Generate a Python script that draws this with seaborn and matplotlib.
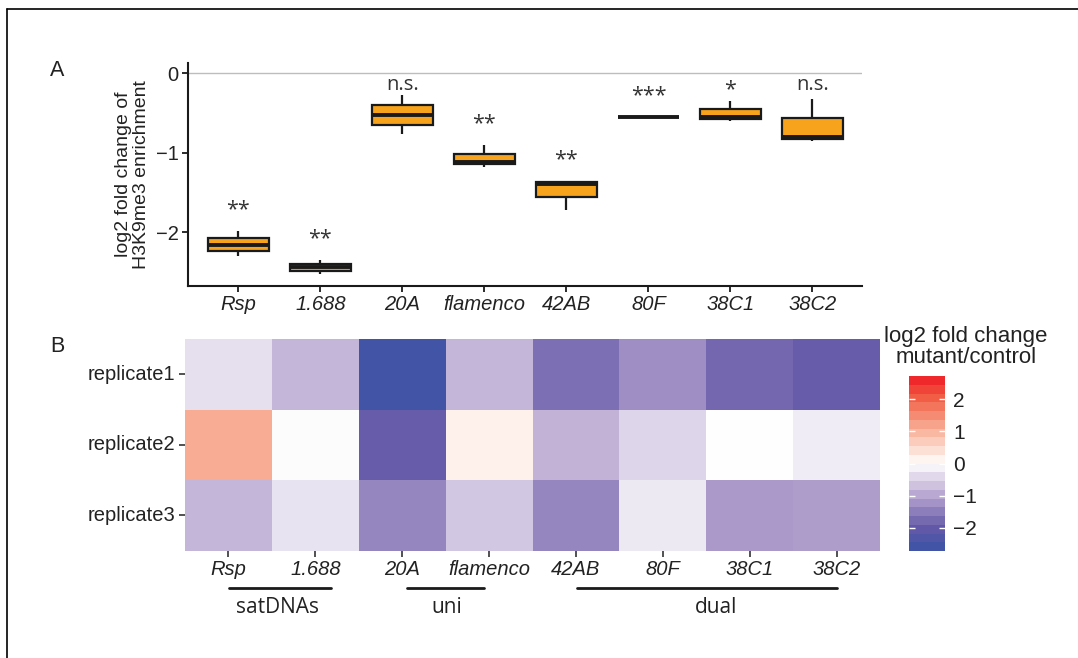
import numpy as np
import pandas as pd
import matplotlib
matplotlib.use('Agg')
import matplotlib.pyplot as plt
import seaborn as sns
from matplotlib.colors import LinearSegmentedColormap, ListedColormap, Normalize
from matplotlib.cm import ScalarMappable
from matplotlib.lines import Line2D

sns.set_style('white')
plt.rcParams['font.family'] = ['Liberation Sans', 'DejaVu Sans']
plt.rcParams['axes.unicode_minus'] = True

TXT = '#222222'
ANNOT_FONT = ['Open Sans', 'DejaVu Sans']

# loci (x categories, same for both panels)
loci = ['Rsp', '1.688', '20A', 'flamenco', '42AB', '80F', '38C1', '38C2']

# panel A: three replicate values per locus (log2 FC of H3K9me3 enrichment)
box_rep1 = [-1.99, -2.354, -0.27, -0.908, -1.354, -0.548, -0.354, -0.32]
box_rep2 = [-2.167, -2.44, -0.525, -1.115, -1.396, -0.554, -0.555, -0.805]
box_rep3 = [-2.30, -2.533, -0.77, -1.175, -1.717, -0.560, -0.600, -0.85]
sig_labels = ['**', '**', 'n.s.', '**', '**', '***', '*', 'n.s.']

# panel B: heatmap log2 fold change mutant/control
replicates = ['replicate1', 'replicate2', 'replicate3']
hm_rep1 = [-0.35, -0.80, -2.60, -0.80, -1.70, -1.30, -1.80, -1.95]
hm_rep2 = [1.10, -0.03, -1.95, 0.20, -0.85, -0.45, 0.00, -0.20]
hm_rep3 = [-0.80, -0.30, -1.40, -0.60, -1.40, -0.25, -1.15, -1.10]

# locus groups under heatmap (spans in column units)
group_names = ['satDNAs', 'uni', 'dual']
group_start = [0.505, 2.558, 4.508]
group_end = [1.68, 3.447, 7.5]
group_center = [1.07, 3.01, 6.11]

# colour scale
lim = 2.73
cmap_vals = [-2.73, -2.0, -1.0, 0.0, 1.0, 2.0, 2.73]
cmap_cols = ['#3953A4', '#6459A8', '#B6A4CF', '#FFFFFF', '#F9B49D', '#F26449', '#EE1C24']
cmap = LinearSegmentedColormap.from_list(
    'fc', [((v + lim) / (2 * lim), c) for v, c in zip(cmap_vals, cmap_cols)])

W, H = 1078, 658
fig = plt.figure(figsize=(W / 100, H / 100), dpi=100)


def fx(px):
    return px / W


def fy(px):
    return 1 - px / H


# ---------- panel A ----------
ax = fig.add_axes([fx(188.3), fy(285.7), fx(861.7 - 188.3), (285.7 - 63.3) / H])
box_df = pd.DataFrame({
    'locus': loci * 3,
    'value': box_rep1 + box_rep2 + box_rep3,
})
ax.axhline(0, color='#bdbdbd', lw=1, zorder=0)
sns.boxplot(data=box_df, x='locus', y='value', order=loci, color='#F7A31C',
            saturation=1, width=0.75, linewidth=1.6, linecolor='#1a1a1a',
            whis=(0, 100), showcaps=False, fliersize=0,
            medianprops={'linewidth': 2.8, 'color': '#1a1a1a'}, ax=ax)

box_max = box_df.groupby('locus')['value'].max()
for i, (loc, lab) in enumerate(zip(loci, sig_labels)):
    y = min(box_max[loc] + 0.33, -0.15)
    if '*' in lab:
        # asterisks sit high in the glyph box, pull them down a bit
        ax.text(i, y - 0.06, lab, ha='center', va='center', fontsize=15.5,
                color='#333333', family=ANNOT_FONT)
    else:
        ax.text(i, y, lab, ha='center', va='center', fontsize=14.5,
                color='#333333', family=ANNOT_FONT)

ax.set_xlim(-0.61, 7.6)
ax.set_ylim(-2.675, 0.125)
ax.set_yticks([0, -1, -2])
ax.set_xlabel('')
ax.set_ylabel('log2 fold change of\nH3K9me3 enrichment', fontsize=14,
              color=TXT, labelpad=4, linespacing=1.05)
for s in ['top', 'right']:
    ax.spines[s].set_visible(False)
for s in ['left', 'bottom']:
    ax.spines[s].set_color('#1a1a1a')
    ax.spines[s].set_linewidth(1.5)
ax.tick_params(bottom=True, left=True, length=4, width=1.3, color='#1a1a1a',
               labelsize=14.5, labelcolor=TXT, pad=3)
for t in ax.get_xticklabels():
    t.set_fontstyle('italic')

# ---------- panel B ----------
ax2 = fig.add_axes([fx(185), fy(550.7), fx(880 - 185), (550.7 - 339) / H])
hm = pd.DataFrame([hm_rep1, hm_rep2, hm_rep3], index=replicates, columns=loci)
sns.heatmap(hm, cmap=cmap, vmin=-lim, vmax=lim, cbar=False, ax=ax2,
            linewidths=0)
ax2.set_xlabel('')
ax2.set_ylabel('')
ax2.tick_params(bottom=True, left=True, length=4, width=1.2, color='#333333',
                labelsize=14.5, labelcolor=TXT, pad=3)
ax2.set_yticklabels(replicates, rotation=0)
ax2.set_xticklabels(loci, rotation=0, fontstyle='italic')

for name, x0, x1, xc in zip(group_names, group_start, group_end, group_center):
    ax2.plot([x0, x1], [3.524, 3.524], color='#1a1a1a', lw=2, clip_on=False)
    ax2.text(xc, 3.80, name, ha='center', va='center', fontsize=15,
             color=TXT, family=ANNOT_FONT)

# colour bar (binned like the original)
cax = fig.add_axes([fx(909), fy(551), fx(945 - 909), (551 - 376) / H])
disc = ListedColormap(cmap((np.arange(20) + 0.5) / 20))
cb = fig.colorbar(ScalarMappable(norm=Normalize(-lim, lim), cmap=disc), cax=cax,
                  ticks=[-2, -1, 0, 1, 2])
cb.outline.set_visible(False)
cax.tick_params(length=0, labelsize=15, labelcolor=TXT, pad=6)
for t in [-2, -1, 0, 1, 2]:
    cax.hlines(t, 0, 0.17, color='white', lw=1, transform=cax.get_yaxis_transform())
    cax.hlines(t, 0.83, 1, color='white', lw=1, transform=cax.get_yaxis_transform())
fig.text(fx(966), fy(347), 'log2 fold change\nmutant/control', ha='center',
         va='center', fontsize=16, color=TXT, linespacing=1.05)

# panel letters and frame
fig.text(fx(57), fy(70), 'A', fontsize=15.5, ha='center', va='center', color=TXT)
fig.text(fx(57), fy(346), 'B', fontsize=15.5, ha='center', va='center', color=TXT)
fig.add_artist(Line2D([fx(7), 1], [fy(9.3), fy(9.3)], color='black', lw=1.2,
                      transform=fig.transFigure))
fig.add_artist(Line2D([fx(7), fx(7)], [0, fy(9.3)], color='black', lw=1.2,
                      transform=fig.transFigure))

fig.savefig('out.png', dpi=100)
